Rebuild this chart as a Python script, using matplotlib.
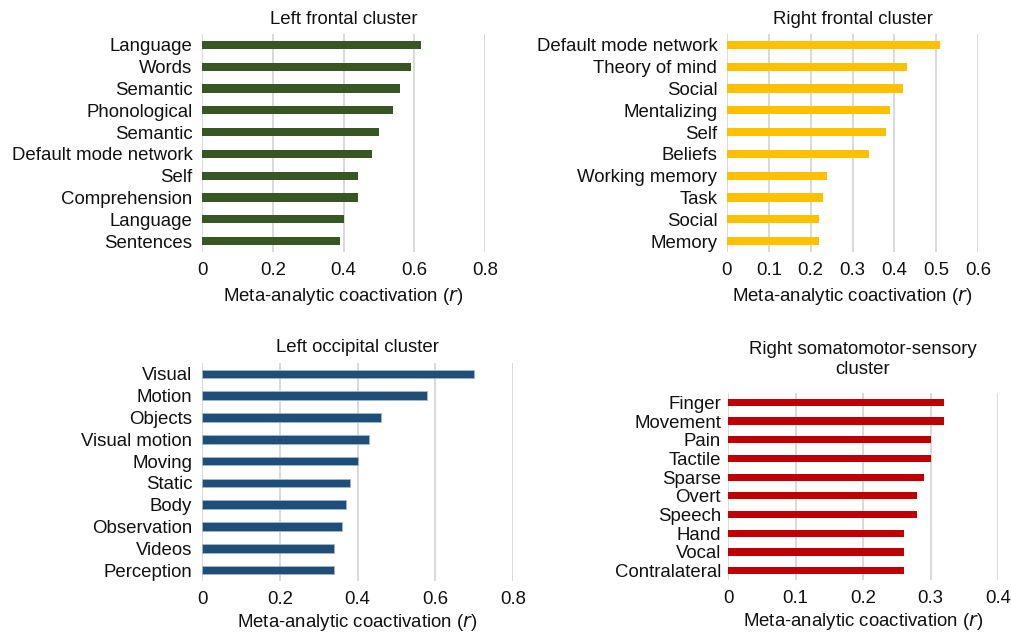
import matplotlib
matplotlib.use("Agg")
import matplotlib.pyplot as plt

plt.rcParams['font.family'] = ['Liberation Sans', 'DejaVu Sans']

# Term labels and coactivation values (top to bottom)
left_frontal_terms = ["Language", "Words", "Semantic", "Phonological", "Semantic",
                      "Default mode network", "Self", "Comprehension", "Language", "Sentences"]
left_frontal_r = [0.62, 0.59, 0.56, 0.54, 0.50, 0.48, 0.44, 0.44, 0.40, 0.39]

right_frontal_terms = ["Default mode network", "Theory of mind", "Social", "Mentalizing", "Self",
                       "Beliefs", "Working memory", "Task", "Social", "Memory"]
right_frontal_r = [0.51, 0.43, 0.42, 0.39, 0.38, 0.34, 0.24, 0.23, 0.22, 0.22]

left_occipital_terms = ["Visual", "Motion", "Objects", "Visual motion", "Moving",
                        "Static", "Body", "Observation", "Videos", "Perception"]
left_occipital_r = [0.70, 0.58, 0.46, 0.43, 0.40, 0.38, 0.37, 0.36, 0.34, 0.34]

right_sms_terms = ["Finger", "Movement", "Pain", "Tactile", "Sparse",
                   "Overt", "Speech", "Hand", "Vocal", "Contralateral"]
right_sms_r = [0.32, 0.32, 0.30, 0.30, 0.29, 0.28, 0.28, 0.26, 0.26, 0.26]

left_frontal_ticks = [0, 0.2, 0.4, 0.6, 0.8]
right_frontal_ticks = [0, 0.1, 0.2, 0.3, 0.4, 0.5, 0.6]
left_occipital_ticks = [0, 0.2, 0.4, 0.6, 0.8]
right_sms_ticks = [0, 0.1, 0.2, 0.3, 0.4]

W, H = 1011, 633
FS = 13.4
fig = plt.figure(figsize=(W / 100, H / 100), dpi=100)


def px_axes(x0, x1, ytop, ybot):
    return fig.add_axes([x0 / W, 1 - ybot / H, (x1 - x0) / W, (ybot - ytop) / H])


def panel(ax, terms, vals, ticks, color, title, edge=None, bar_h=0.38,
          xlabelpad=5, titlepad=7):
    n = len(terms)
    ypos = list(range(n))
    ax.barh(ypos, vals, height=bar_h, color=color,
            edgecolor=edge if edge else color, linewidth=0.6 if edge else 0, zorder=3)
    ax.set_ylim(n - 0.5, -0.5)
    ax.set_xlim(ticks[0], ticks[-1])
    ax.set_xticks(ticks)
    ax.set_xticklabels(["0" if t == 0 else f"{t:g}" for t in ticks])
    ax.set_yticks(ypos)
    ax.set_yticklabels(terms)
    for s in ax.spines.values():
        s.set_visible(False)
    ax.tick_params(axis='both', length=0, labelsize=FS, colors='#111111')
    ax.tick_params(axis='y', pad=7)
    ax.tick_params(axis='x', pad=7)
    ax.grid(axis='x', color='#d9d9d9', linewidth=1.4, zorder=0)
    ax.set_axisbelow(True)
    ax.set_xlabel(r"Meta-analytic coactivation ($\it{r}$)", fontsize=FS,
                  labelpad=xlabelpad, color='#111111')
    ax.set_title(title, fontsize=FS, pad=titlepad, color='#111111')


ax1 = px_axes(202, 485, 34, 252)
panel(ax1, left_frontal_terms, left_frontal_r, left_frontal_ticks, '#375623', "Left frontal cluster")

ax2 = px_axes(727, 978, 34, 252)
panel(ax2, right_frontal_terms, right_frontal_r, right_frontal_ticks, '#ffc000', "Right frontal cluster")

ax3 = px_axes(202, 513, 363, 581)
panel(ax3, left_occipital_terms, left_occipital_r, left_occipital_ticks, '#1f4e79',
      "Left occipital cluster", edge='#9fb6cc', bar_h=0.4, xlabelpad=3, titlepad=8)

ax4 = px_axes(728, 998, 393, 580)
panel(ax4, right_sms_terms, right_sms_r, right_sms_ticks, '#c00000',
      "Right somatomotor-sensory\ncluster", bar_h=0.38, xlabelpad=3, titlepad=14)
ax4.tick_params(axis='y', pad=5)

fig.savefig("out.png", dpi=100, facecolor='white')
